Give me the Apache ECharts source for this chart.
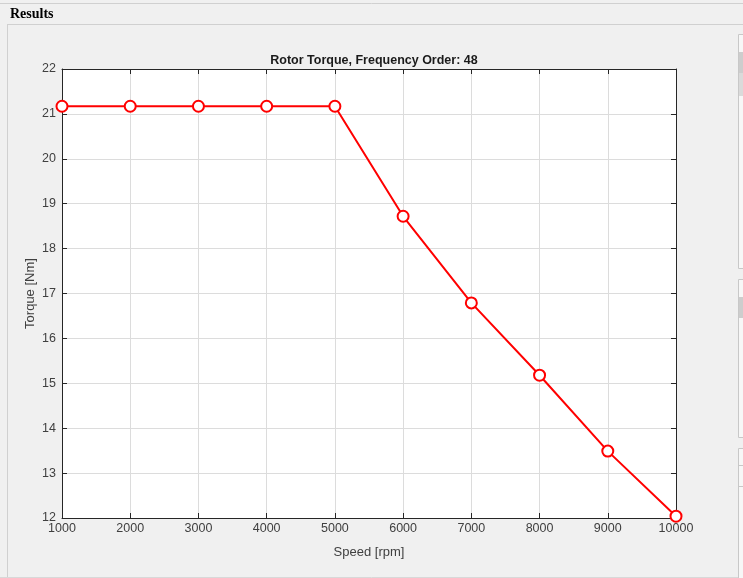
<!DOCTYPE html>
<html><head><meta charset="utf-8">
<script src="https://cdn.jsdelivr.net/npm/echarts@6/dist/echarts.min.js"></script>
<style>html,body{margin:0;padding:0;background:#f0f0f0;}#c{width:743px;height:578px;}</style>
</head><body><div id="c"></div>
<script>
const speeds = [1000, 2000, 3000, 4000, 5000, 6000, 7000, 8000, 9000, 10000];
const torque = [21.17, 21.17, 21.17, 21.17, 21.17, 18.72, 16.79, 15.18, 13.49, 12.04];
const titleText = 'Rotor Torque, Frequency Order: 48';
const xName = 'Speed [rpm]';
const yName = 'Torque [Nm]';

const chart = echarts.init(document.getElementById('c'));
const axisColor = '#262626';
const labelColor = '#404040';
const font = 'Liberation Sans, Arial, sans-serif';
chart.setOption({
  backgroundColor: '#f0f0f0',
  animation: false,
  title: {
    text: titleText, left: 369, top: 49, textAlign: 'center',
    textStyle: {fontFamily: font, fontSize: 12.5, fontWeight: 'bold', color: '#1a1a1a'}
  },
  grid: {left: 62, right: 67, top: 69, bottom: 60, show: true, backgroundColor: '#ffffff', borderWidth: 0},
  xAxis: [{
    type: 'value', min: 1000, max: 10000, interval: 1000, position: 'bottom',
    name: xName, nameLocation: 'middle', nameGap: 28, nameMoveOverlap: false,
    nameTextStyle: {fontFamily: font, fontSize: 13, color: labelColor},
    axisLine: {show: true, onZero: false, lineStyle: {color: axisColor, width: 1}},
    axisTick: {show: true, inside: true, length: 5, lineStyle: {color: axisColor}},
    axisLabel: {fontFamily: font, fontSize: 12.5, color: labelColor, margin: 4, formatter: v => String(v)},
    splitLine: {show: true, lineStyle: {color: '#dcdcdc', width: 1}}
  }, {
    type: 'value', min: 1000, max: 10000, interval: 1000, position: 'top',
    axisLine: {show: true, onZero: false, lineStyle: {color: axisColor, width: 1}},
    axisTick: {show: true, inside: true, length: 5, lineStyle: {color: axisColor}},
    axisLabel: {show: false}, splitLine: {show: false}
  }],
  yAxis: [{
    type: 'value', min: 12, max: 22, interval: 1, position: 'left',
    name: yName, nameLocation: 'middle', nameGap: 25, nameRotate: 90, nameMoveOverlap: false,
    nameTextStyle: {fontFamily: font, fontSize: 13, color: labelColor},
    axisLine: {show: true, onZero: false, lineStyle: {color: axisColor, width: 1}},
    axisTick: {show: true, inside: true, length: 5, lineStyle: {color: axisColor}},
    axisLabel: {fontFamily: font, fontSize: 12.5, color: labelColor, margin: 6},
    splitLine: {show: true, lineStyle: {color: '#dcdcdc', width: 1}}
  }, {
    type: 'value', min: 12, max: 22, interval: 1, position: 'right',
    axisLine: {show: true, onZero: false, lineStyle: {color: axisColor, width: 1}},
    axisTick: {show: true, inside: true, length: 5, lineStyle: {color: axisColor}},
    axisLabel: {show: false}, splitLine: {show: false}
  }],
  series: [{
    type: 'line', xAxisIndex: 0, yAxisIndex: 0,
    data: speeds.map((s, i) => [s, torque[i]]),
    lineStyle: {color: '#ff0000', width: 2},
    symbol: 'circle', symbolSize: 11,
    itemStyle: {color: '#ffffff', borderColor: '#ff0000', borderWidth: 2},
    clip: false, z: 5
  }],
  graphic: [
    {type: 'line', shape: {x1: 0, y1: 3.5, x2: 743, y2: 3.5}, style: {stroke: '#d0d0d0', lineWidth: 1}, silent: true},
    {type: 'text', left: 10, top: 7, style: {text: 'Results', font: 'bold 14px "Liberation Serif", "DejaVu Serif", serif', fill: '#000000'}, silent: true},
    {type: 'line', shape: {x1: 7, y1: 24.5, x2: 743, y2: 24.5}, style: {stroke: '#d0d0d0', lineWidth: 1}, silent: true},
    {type: 'line', shape: {x1: 7.5, y1: 24, x2: 7.5, y2: 578}, style: {stroke: '#d0d0d0', lineWidth: 1}, silent: true},
    {type: 'line', shape: {x1: 0, y1: 577.5, x2: 743, y2: 577.5}, style: {stroke: '#d8d8d8', lineWidth: 1}, silent: true},
    {type: 'rect', shape: {x: 738.5, y: 34.5, width: 10, height: 234}, style: {fill: '#f7f7f7', stroke: '#c8c8c8', lineWidth: 1}, silent: true},
    {type: 'rect', shape: {x: 739, y: 52, width: 5, height: 21}, style: {fill: '#cdcdcd'}, silent: true},
    {type: 'rect', shape: {x: 739, y: 73, width: 5, height: 23}, style: {fill: '#dadada'}, silent: true},
    {type: 'rect', shape: {x: 738.5, y: 279.5, width: 10, height: 158}, style: {fill: '#f7f7f7', stroke: '#c8c8c8', lineWidth: 1}, silent: true},
    {type: 'rect', shape: {x: 739, y: 297, width: 5, height: 21}, style: {fill: '#cdcdcd'}, silent: true},
    {type: 'rect', shape: {x: 738.5, y: 448.5, width: 10, height: 135}, style: {fill: '#f7f7f7', stroke: '#c8c8c8', lineWidth: 1}, silent: true},
    {type: 'line', shape: {x1: 739, y1: 465.5, x2: 743, y2: 465.5}, style: {stroke: '#c8c8c8', lineWidth: 1}, silent: true},
    {type: 'line', shape: {x1: 739, y1: 486.5, x2: 743, y2: 486.5}, style: {stroke: '#c8c8c8', lineWidth: 1}, silent: true}
  ]
});
</script>
</body></html>
